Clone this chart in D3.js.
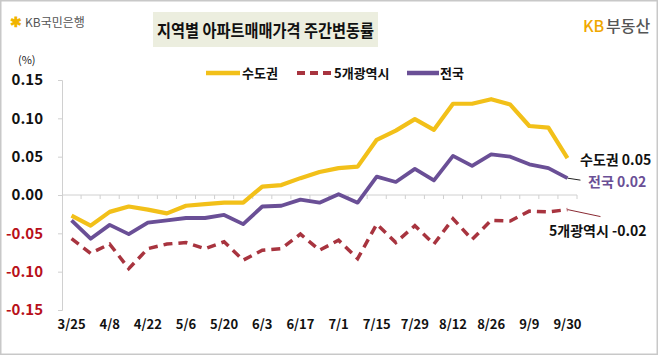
<!DOCTYPE html>
<html><head><meta charset="utf-8">
<script src="https://cdn.jsdelivr.net/npm/d3@7"></script>
<style>
body{margin:0;background:#fff;}
text{font-family:"Noto Sans CJK KR","Noto Sans",sans-serif;}
</style></head>
<body><svg id="c" width="658" height="355"></svg>
<script>
const weeks = ["3/25","4/1","4/8","4/15","4/22","4/29","5/6","5/13","5/20","5/27","6/3","6/10","6/17","6/24","7/1","7/8","7/15","7/22","7/29","8/5","8/12","8/19","8/26","9/2","9/9","9/23","9/30"];
const tickLabels = ["3/25","4/8","4/22","5/6","5/20","6/3","6/17","7/1","7/15","7/29","8/12","8/26","9/9","9/30"];
const yTicks = [0.15,0.10,0.05,0.00,-0.05,-0.10,-0.15];
const seoulMetro = [-0.027,-0.040,-0.022,-0.015,-0.019,-0.024,-0.014,-0.012,-0.010,-0.010,0.011,0.013,0.022,0.030,0.035,0.037,0.072,0.084,0.099,0.085,0.119,0.119,0.125,0.118,0.090,0.088,0.048];
const fiveCities = [-0.057,-0.076,-0.064,-0.096,-0.070,-0.064,-0.062,-0.070,-0.061,-0.085,-0.072,-0.070,-0.051,-0.072,-0.059,-0.083,-0.038,-0.062,-0.040,-0.064,-0.031,-0.058,-0.033,-0.034,-0.021,-0.022,-0.019];
const nation = [-0.033,-0.057,-0.039,-0.051,-0.036,-0.033,-0.030,-0.030,-0.026,-0.038,-0.015,-0.014,-0.006,-0.010,0.001,-0.010,0.024,0.017,0.034,0.019,0.051,0.038,0.053,0.050,0.040,0.035,0.022];
const seriesNames = ["수도권","5개광역시","전국"];
const endLabels = ["수도권 0.05","5개광역시 -0.02","전국 0.02"];

const svg = d3.select("#c");
svg.append("rect").attr("x",0.75).attr("y",0.75).attr("width",656.5).attr("height",353.5)
  .attr("fill","#fff").attr("stroke","#c8c8c8").attr("stroke-width",1.5);

const x = d3.scaleBand().domain(weeks).range([62,577]);
const y = d3.scaleLinear().domain([-0.15,0.15]).range([310,80]);
const cx = d => x(d) + x.bandwidth()/2;

// title
svg.append("rect").attr("x",153).attr("y",12).attr("width",225).attr("height",35).attr("fill","#eceedf");
svg.append("text").attr("x",157).attr("y",36.5)
  .attr("font-size",17.5).attr("font-weight",700).attr("fill","#111")
  .attr("textLength",217).attr("lengthAdjust","spacingAndGlyphs").text("지역별 아파트매매가격 주간변동률");

// logos
svg.append("text").attr("x",10).attr("y",27).attr("font-size",14).attr("font-weight",700).attr("fill","#f0b400").text("✱");
svg.append("text").attr("x",25).attr("y",27).attr("font-size",12).attr("fill","#555").text("KB국민은행");
svg.append("text").attr("x",583).attr("y",32).attr("font-size",16).attr("font-weight",500).attr("fill","#f0a800").text("KB");
svg.append("text").attr("x",606).attr("y",32).attr("font-size",16).attr("font-weight",500).attr("fill","#555").text("부동산");

svg.append("text").attr("x",18).attr("y",64).attr("font-size",11).attr("fill","#222").text("(%)");

// y axis
const gy = svg.append("g").attr("transform","translate(62,0)")
  .call(d3.axisLeft(y).tickValues(yTicks).tickSize(4).tickPadding(15).tickFormat(d=>d.toFixed(2)));
gy.select(".domain").attr("stroke","#d0d0d0");
gy.selectAll(".tick line").attr("stroke","#d0d0d0");
gy.selectAll(".tick text").attr("font-size",15).attr("font-weight",700)
  .attr("font-family","'Noto Sans CJK KR',sans-serif")
  .attr("fill",d=>d<0?"#b8101a":"#111");

// x axis line at 0
svg.append("line").attr("x1",62).attr("x2",577).attr("y1",y(0)).attr("y2",y(0)).attr("stroke","#d0d0d0");
svg.append("g").selectAll("line").data(weeks).join("line")
  .attr("x1",d=>x(d)+x.bandwidth()).attr("x2",d=>x(d)+x.bandwidth())
  .attr("y1",y(0)).attr("y2",y(0)+4).attr("stroke","#d0d0d0");
const gx = svg.append("g").attr("transform","translate(0,320)")
  .call(d3.axisBottom(x).tickValues(tickLabels).tickSize(0).tickPadding(0));
gx.select(".domain").remove();
gx.selectAll(".tick text").attr("font-size",13).attr("font-weight",700).attr("fill","#111")
  .attr("font-family","'Noto Sans CJK KR',sans-serif");

// lines
const line = d3.line().x((d,i)=>cx(weeks[i])).y(d=>y(d));
svg.append("path").datum(fiveCities).attr("d",line).attr("fill","none")
  .attr("stroke","#a8343f").attr("stroke-width",3.5).attr("stroke-dasharray","9,6");
svg.append("path").datum(nation).attr("d",line).attr("fill","none")
  .attr("stroke","#6a4f96").attr("stroke-width",3.8).attr("stroke-linejoin","round");
svg.append("path").datum(seoulMetro).attr("d",line).attr("fill","none")
  .attr("stroke","#f2c019").attr("stroke-width",4.2).attr("stroke-linejoin","round");

// legend
const leg = svg.append("g");
leg.append("line").attr("x1",206).attr("x2",240).attr("y1",73).attr("y2",73).attr("stroke","#f2c019").attr("stroke-width",4.5);
leg.append("text").attr("x",242).attr("y",78).attr("font-size",13).attr("font-weight",700).attr("fill","#111").text(seriesNames[0]);
leg.append("line").attr("x1",297).attr("x2",333).attr("y1",73).attr("y2",73).attr("stroke","#a8343f").attr("stroke-width",4).attr("stroke-dasharray","8,5");
leg.append("text").attr("x",334).attr("y",78).attr("font-size",13).attr("font-weight",700).attr("fill","#111").text(seriesNames[1]);
leg.append("line").attr("x1",407).attr("x2",439).attr("y1",73).attr("y2",73).attr("stroke","#6a4f96").attr("stroke-width",4.5);
leg.append("text").attr("x",440).attr("y",78).attr("font-size",13).attr("font-weight",700).attr("fill","#111").text(seriesNames[2]);

// end labels
const last = weeks.length-1, lx = cx(weeks[last]);
svg.append("text").attr("x",580).attr("y",165).attr("font-size",14).attr("font-weight",700).attr("fill","#111").text(endLabels[0]);
svg.append("line").attr("x1",lx).attr("y1",y(nation[last])).attr("x2",lx+13).attr("y2",y(nation[last])+2).attr("stroke","#222").attr("stroke-width",1);
svg.append("text").attr("x",588).attr("y",187).attr("font-size",14).attr("font-weight",700).attr("fill","#6a4f96").text(endLabels[2]);
svg.append("line").attr("x1",lx).attr("y1",y(fiveCities[last])).attr("x2",lx+33).attr("y2",y(fiveCities[last])+7).attr("stroke","#8a2a33").attr("stroke-width",1);
svg.append("text").attr("x",549).attr("y",236).attr("font-size",14).attr("font-weight",700).attr("fill","#111").text(endLabels[1]);
</script></body></html>
